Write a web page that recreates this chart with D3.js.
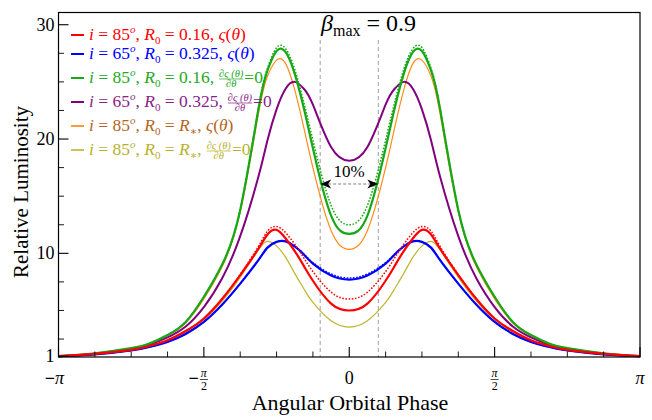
<!DOCTYPE html>
<html><head><meta charset="utf-8">
<script src="https://cdn.jsdelivr.net/npm/d3@7"></script>
<style>
body{margin:0;background:#fff}
svg{display:block}
text{font-family:"Liberation Serif","DejaVu Serif",serif}
</style>
</head><body><svg id="c" width="652" height="420"></svg>
<script>
// phase in units of pi
const phase = [-1,-0.875,-0.75,-0.6875,-0.625,-0.5625,-0.5,-0.4375,-0.375,-0.3125,-0.28125,-0.25,-0.21875,-0.1875,-0.15625,-0.125,-0.0625,0,0.0625,0.125,0.15625,0.1875,0.21875,0.25,0.28125,0.3125,0.375,0.4375,0.5,0.5625,0.625,0.6875,0.75,0.875,1];

const green85 = [1.0,1.25,1.7,2.1,2.85,4.0,6.2,9.0,13.8,22.6,26.0,27.7,27.6,25.7,22.7,19.2,13.3,11.7,13.3,19.2,22.7,25.7,27.6,27.7,26.0,22.6,13.8,9.0,6.2,4.0,2.85,2.1,1.7,1.25,1.0];
const green85Dot = [1.0,1.25,1.7,2.1,2.85,4.0,6.2,9.0,13.8,22.7,26.2,28.0,27.9,26.1,23.2,19.9,14.2,12.5,14.2,19.9,23.2,26.1,27.9,28.0,26.2,22.7,13.8,9.0,6.2,4.0,2.85,2.1,1.7,1.25,1.0];
const orange85 = [1.0,1.25,1.7,2.1,2.8,3.9,6.0,8.8,13.6,22.2,25.5,26.9,26.6,24.3,21.0,17.5,12.0,10.35,12.0,17.5,21.0,24.3,26.6,26.9,25.5,22.2,13.6,8.8,6.0,3.9,2.8,2.1,1.7,1.25,1.0];
const purple65 = [1.0,1.2,1.6,2.0,2.65,3.6,5.3,7.8,11.5,16.7,19.9,22.6,24.4,25.0,24.4,23.0,19.3,18.1,19.3,23.0,24.4,25.0,24.4,22.6,19.9,16.7,11.5,7.8,5.3,3.6,2.65,2.0,1.6,1.2,1.0];
const red85 = [1.0,1.2,1.55,1.9,2.4,3.2,4.3,6.0,8.1,10.4,11.65,12.05,11.3,10.2,8.9,7.6,5.6,5.0,5.6,7.6,8.9,10.2,11.3,12.05,11.65,10.4,8.1,6.0,4.3,3.2,2.4,1.9,1.55,1.2,1.0];
const red85Dot = [1.0,1.2,1.55,1.9,2.4,3.2,4.3,6.0,8.15,10.6,11.95,12.35,11.8,10.8,9.6,8.4,6.6,6.0,6.6,8.4,9.6,10.8,11.8,12.35,11.95,10.6,8.15,6.0,4.3,3.2,2.4,1.9,1.55,1.2,1.0];
const blue65 = [1.0,1.15,1.5,1.8,2.25,2.95,4.0,5.5,7.35,9.4,10.5,11.0,11.05,10.6,9.9,9.1,8.05,7.7,8.05,9.1,9.9,10.6,11.05,11.0,10.5,9.4,7.35,5.5,4.0,2.95,2.25,1.8,1.5,1.15,1.0];
const blue65Dot = [1.0,1.15,1.5,1.8,2.25,2.95,4.0,5.5,7.35,9.4,10.5,11.0,11.05,10.6,9.95,9.2,8.2,7.85,8.2,9.2,9.95,10.6,11.05,11.0,10.5,9.4,7.35,5.5,4.0,2.95,2.25,1.8,1.5,1.15,1.0];
const olive85 = [1.0,1.15,1.5,1.85,2.35,3.1,4.2,5.8,7.9,10.3,11.05,10.65,9.65,8.25,6.9,5.7,4.1,3.55,4.1,5.7,6.9,8.25,9.65,10.65,11.05,10.3,7.9,5.8,4.2,3.1,2.35,1.85,1.5,1.15,1.0];

const yMajorTicks = [1,10,20,30];
const yMinorTicks = [2.5,5,7.5,12.5,15,17.5,22.5,25,27.5];
const xMajorTicks = [-1,-0.5,0,0.5,1];
const xMinorTicks = [-0.875,-0.75,-0.625,-0.375,-0.25,-0.125,0.125,0.25,0.375,0.625,0.75,0.875];
const markerPhase = [-0.1,0.1];
const inclinations = ["85","65","85","65","85","85"];
const radii = ["0.16","0.325","0.16","0.325","R*","R*"];
const kinds = ["s","s","d","d","s","d"];

const svg = d3.select("#c");
const L=58.5,R=640,T=12.5,B=357;
const x = d3.scaleLinear().domain([-Math.PI,Math.PI]).range([L,R]);
const y = d3.scaleLinear().domain([0.93,31.07]).range([B,T]);

const styles = {
  green85:{c:"#17a817",w:2.2},
  green85Dot:{c:"#17a817",w:1.5,d:"1.6,1.6"},
  orange85:{c:"#ff8c1a",w:1.2},
  purple65:{c:"#800080",w:2},
  red85:{c:"#ff0000",w:2.2},
  red85Dot:{c:"#ff0000",w:1.5,d:"1.6,1.6"},
  blue65:{c:"#0000ff",w:2.2},
  blue65Dot:{c:"#0000ff",w:1.3,d:"1.6,1.6"},
  olive85:{c:"#bdb62c",w:1.2}
};
const series = {green85,green85Dot,orange85,purple65,red85,red85Dot,blue65,blue65Dot,olive85};
const order = ["olive85","orange85","purple65","green85","green85Dot","blue65","blue65Dot","red85","red85Dot"];

const line = d3.line().x((d,i)=>x(phase[i]*Math.PI)).y(d=>y(d)).curve(d3.curveNatural);

// vertical dashed markers
svg.selectAll(".vm").data(markerPhase).join("line")
  .attr("x1",d=>x(d*Math.PI)).attr("x2",d=>x(d*Math.PI))
  .attr("y1",40).attr("y2",B)
  .attr("stroke","#888").attr("stroke-width",0.8).attr("stroke-dasharray","4,3");

const g = svg.append("g");
order.forEach(k=>{
  const s=styles[k];
  g.append("path").datum(series[k]).attr("d",line)
   .attr("fill","none").attr("stroke",s.c).attr("stroke-width",s.w)
   .attr("stroke-dasharray",s.d||null);
});

// frame
svg.append("rect").attr("x",L).attr("y",T).attr("width",R-L).attr("height",B-T)
  .attr("fill","none").attr("stroke","#000").attr("stroke-width",1.2);

// ticks
svg.selectAll(".ymaj").data(yMajorTicks).join("line")
  .attr("x1",L).attr("x2",L+10).attr("y1",d=>y(d)).attr("y2",d=>y(d)).attr("stroke","#000").attr("stroke-width",1.1);
svg.selectAll(".ymin").data(yMinorTicks).join("line")
  .attr("x1",L).attr("x2",L+5.5).attr("y1",d=>y(d)).attr("y2",d=>y(d)).attr("stroke","#000").attr("stroke-width",0.9);
svg.selectAll(".xmaj").data(xMajorTicks).join("line")
  .attr("x1",d=>x(d*Math.PI)).attr("x2",d=>x(d*Math.PI)).attr("y1",B).attr("y2",B-10).attr("stroke","#000").attr("stroke-width",1.1);
svg.selectAll(".xmin").data(xMinorTicks).join("line")
  .attr("x1",d=>x(d*Math.PI)).attr("x2",d=>x(d*Math.PI)).attr("y1",B).attr("y2",B-5.5).attr("stroke","#000").attr("stroke-width",0.9);

// y tick labels
svg.selectAll(".yl").data(yMajorTicks).join("text")
  .attr("x",L-4).attr("y",d=>y(d)+6).attr("text-anchor","end")
  .attr("font-size",18).text(d=>d);

// x tick labels
function xLabel(v){
  const cx = x(v*Math.PI);
  const ty = 384;
  if (v===0){ svg.append("text").attr("x",cx).attr("y",ty).attr("text-anchor","middle").attr("font-size",18).text("0"); return; }
  const neg = v<0;
  if (Math.abs(v)===1){
    const t = svg.append("text").attr("x",cx+(neg?-4:0)).attr("y",ty).attr("text-anchor","middle").attr("font-size",18);
    if(neg) t.append("tspan").attr("font-weight","bold").text("\u2212");
    t.append("tspan").attr("font-style","italic").text("\u03c0");
    return;
  }
  if(neg) svg.append("text").attr("x",cx-5).attr("y",ty).attr("text-anchor","end").attr("font-size",18).attr("font-weight","bold").text("\u2212");
  svg.append("text").attr("x",cx).attr("y",ty-7).attr("text-anchor","middle").attr("font-size",12).attr("font-style","italic").text("\u03c0");
  svg.append("line").attr("x1",cx-4).attr("x2",cx+4).attr("y1",ty-4.5).attr("y2",ty-4.5).attr("stroke","#000").attr("stroke-width",0.7);
  svg.append("text").attr("x",cx).attr("y",ty+5.5).attr("text-anchor","middle").attr("font-size",12).text("2");
}
xMajorTicks.forEach(xLabel);

// axis titles
svg.append("text").attr("x",350).attr("y",410).attr("text-anchor","middle").attr("font-size",22).text("Angular Orbital Phase");
svg.append("text").attr("transform","translate(28,192) rotate(-90)").attr("text-anchor","middle").attr("font-size",21).text("Relative Luminosity");

// title
const tt = svg.append("text").attr("x",321).attr("y",31).attr("font-size",24);
tt.append("tspan").attr("font-style","italic").text("\u03b2");
tt.append("tspan").attr("font-size",16).attr("dy",5).text("max");
tt.append("tspan").attr("dy",-5).text(" = 0.9");

// 10% annotation
svg.append("text").attr("x",349).attr("y",177).attr("text-anchor","middle").attr("font-size",17).text("10%");
const ax1=x(markerPhase[0]*Math.PI), ax2=x(markerPhase[1]*Math.PI), ay=184;
svg.append("line").attr("x1",ax1+8).attr("x2",ax2-8).attr("y1",ay).attr("y2",ay)
  .attr("stroke","#aaa").attr("stroke-width",1.5).attr("stroke-dasharray","3,2");
svg.append("path").attr("d",`M${ax1},${ay} L${ax1+11},${ay-4.5} L${ax1+8},${ay} L${ax1+11},${ay+4.5} Z`).attr("fill","#000");
svg.append("path").attr("d",`M${ax2},${ay} L${ax2-11},${ay-4.5} L${ax2-8},${ay} L${ax2-11},${ay+4.5} Z`).attr("fill","#000");

// legend
const legendLine = ["#ff0000","#0000ff","#17a817","#800080","#ff9a3c","#c9c45a"];
const legendText = ["#ff0000","#0000ff","#22aa22","#8a1f8a","#b5651d","#b8b22a"];
const legendY = [35,54,78,102,126,150];
inclinations.forEach((inc,i)=>{
  const ly = legendY[i];
  svg.append("line").attr("x1",71).attr("x2",84).attr("y1",ly).attr("y2",ly).attr("stroke",legendLine[i]).attr("stroke-width",2);
  const col = legendText[i];
  const t = svg.append("text").attr("x",89).attr("y",ly+5).attr("font-size",17.5).attr("fill",col);
  t.append("tspan").attr("font-style","italic").text("i");
  t.append("tspan").text(" = "+inc);
  t.append("tspan").attr("font-size",11).attr("font-style","italic").attr("dy",-7).text("o");
  t.append("tspan").attr("dy",7).text(", ");
  t.append("tspan").attr("font-style","italic").text("R");
  t.append("tspan").attr("font-size",11).attr("dy",4).text("0");
  t.append("tspan").attr("dy",-4).text(" = ");
  if (radii[i]==="R*"){
    t.append("tspan").attr("font-style","italic").text("R");
    t.append("tspan").attr("font-size",11).attr("dy",4).text("\u2217");
    t.append("tspan").attr("dy",-4).text(", ");
  } else {
    t.append("tspan").text(radii[i]+", ");
  }
  if (kinds[i]==="s"){
    t.append("tspan").attr("font-style","italic").text("\u03c2");
    t.append("tspan").text("(");
    t.append("tspan").attr("font-style","italic").text("\u03b8");
    t.append("tspan").text(")");
  } else {
    const w = t.node().getComputedTextLength();
    const fx = 89 + w + 5;
    const num = svg.append("text").attr("x",fx).attr("y",ly-1.5).attr("font-size",10.5).attr("fill",col).attr("font-style","italic").text("\u2202\u03c2 (\u03b8)");
    const nw = num.node().getComputedTextLength();
    svg.append("line").attr("x1",fx).attr("x2",fx+nw).attr("y1",ly+1).attr("y2",ly+1).attr("stroke",col).attr("stroke-width",0.7);
    svg.append("text").attr("x",fx+nw/2).attr("y",ly+9).attr("text-anchor","middle").attr("font-size",10.5).attr("fill",col).attr("font-style","italic").text("\u2202\u03b8");
    svg.append("text").attr("x",fx+nw+1).attr("y",ly+5).attr("font-size",17.5).attr("fill",col).text("=0");
  }
});
</script>
</body></html>
